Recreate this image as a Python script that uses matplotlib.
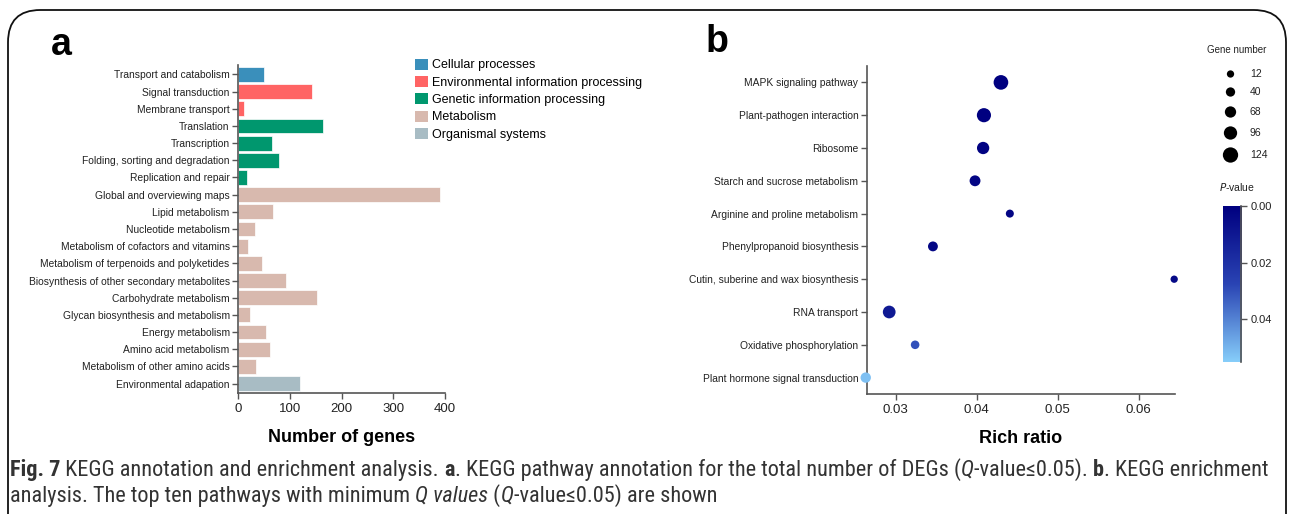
import matplotlib
matplotlib.use("Agg")
import matplotlib.pyplot as plt
import numpy as np
from matplotlib.colors import LinearSegmentedColormap, Normalize
from matplotlib.patches import FancyBboxPatch, Patch

plt.rcParams['font.family'] = ['Liberation Sans', 'DejaVu Sans']

# ---------------- data: panel a ----------------
pathways_a = [
    "Transport and catabolism", "Signal transduction", "Membrane transport",
    "Translation", "Transcription", "Folding, sorting and degradation",
    "Replication and repair", "Global and overviewing maps", "Lipid metabolism",
    "Nucleotide metabolism", "Metabolism of cofactors and vitamins",
    "Metabolism of terpenoids and polyketides",
    "Biosynthesis of other secondary metabolites", "Carbohydrate metabolism",
    "Glycan biosynthesis and metabolism", "Energy metabolism",
    "Amino acid metabolism", "Metabolism of other amino acids",
    "Environmental adapation",
]
gene_counts_a = [50, 143, 12, 165, 66, 80, 18, 391, 67, 33, 19, 46, 92, 153, 24, 54, 62, 35, 119]
classes_a = ["Cellular processes", "Environmental information processing",
             "Environmental information processing",
             "Genetic information processing", "Genetic information processing",
             "Genetic information processing", "Genetic information processing",
             "Metabolism", "Metabolism", "Metabolism", "Metabolism", "Metabolism",
             "Metabolism", "Metabolism", "Metabolism", "Metabolism", "Metabolism",
             "Metabolism", "Organismal systems"]
class_names = ["Cellular processes", "Environmental information processing",
               "Genetic information processing", "Metabolism", "Organismal systems"]
class_colors = ["#3a8fbb", "#ff6464", "#00976e", "#d8b9ae", "#a8bcc4"]
xticks_a = [0, 100, 200, 300, 400]

# ---------------- data: panel b ----------------
pathways_b = [
    "MAPK signaling pathway", "Plant-pathogen interaction", "Ribosome",
    "Starch and sucrose metabolism", "Arginine and proline metabolism",
    "Phenylpropanoid biosynthesis", "Cutin, suberine and wax biosynthesis",
    "RNA transport", "Oxidative phosphorylation", "Plant hormone signal transduction",
]
rich_ratio_b = [0.0430, 0.0409, 0.0408, 0.0398, 0.0441, 0.0346, 0.0644, 0.0292, 0.0324, 0.0263]
gene_number_b = [115, 108, 82, 62, 22, 48, 12, 88, 30, 55]
p_value_b = [0.0, 0.0, 0.001, 0.002, 0.002, 0.003, 0.004, 0.010, 0.030, 0.052]
size_legend_vals = [12, 40, 68, 96, 124]
xticks_b = [0.03, 0.04, 0.05, 0.06]
cbar_ticks = [0.00, 0.02, 0.04]

# ---------------- figure helpers ----------------
W, H = 1292, 514
DPI = 100
fig = plt.figure(figsize=(W / DPI, H / DPI), dpi=DPI)


def rect(x0, y0, x1, y1):
    return [x0 / W, 1 - y1 / H, (x1 - x0) / W, (y1 - y0) / H]


def dot_size(n):
    d_px = 6.44 + 0.0714 * np.asarray(n, dtype=float)
    return (d_px * 72.0 / DPI) ** 2


AX_COLOR = "#555555"
TXT = "#222222"

# border
fig.patches.append(FancyBboxPatch((8 / W, -0.2), (1286 - 8) / W, 1.2 - 10 / H,
                                  boxstyle="round,pad=0,rounding_size=0.025",
                                  transform=fig.transFigure, fill=False,
                                  edgecolor="#111111", linewidth=1.3,
                                  mutation_aspect=W / H))

# ---------------- panel a ----------------
axa = fig.add_axes(rect(238, 65, 445, 393))
ya = np.arange(len(pathways_a))
cmap_cls = dict(zip(class_names, class_colors))
axa.barh(ya, gene_counts_a, height=0.86,
         color=[cmap_cls[c] for c in classes_a], edgecolor="white", linewidth=0.5)
axa.set_ylim(len(pathways_a) - 0.45, -0.55)
axa.set_xlim(0, 400)
axa.set_xticks(xticks_a)
axa.set_yticks(ya)
axa.set_yticklabels(pathways_a, fontsize=7.4, color=TXT)
axa.tick_params(axis="x", labelsize=9.5, colors=AX_COLOR, labelcolor=TXT, length=4, width=1)
axa.tick_params(axis="y", colors=AX_COLOR, labelcolor=TXT, length=4, width=1, pad=2)
for s in ["top", "right"]:
    axa.spines[s].set_visible(False)
for s in ["left", "bottom"]:
    axa.spines[s].set_color(AX_COLOR)
    axa.spines[s].set_linewidth(1.2)
axa.set_xlabel("Number of genes", fontsize=13, fontweight="bold", labelpad=10, color="black")

handles = [Patch(facecolor=c, edgecolor="none") for c in class_colors]
fig.legend(handles, class_names, loc="upper left", bbox_to_anchor=(415 / W, 1 - 58.5 / H),
           frameon=False, fontsize=9, handlelength=1.0, handleheight=1.0,
           handletextpad=0.35, labelspacing=0.36, borderaxespad=0, borderpad=0)

fig.text(61 / W, 1 - 45 / H, "a", fontsize=27, fontweight="bold", ha="center", va="center")
fig.text(717 / W, 1 - 42 / H, "b", fontsize=27, fontweight="bold", ha="center", va="center")

# ---------------- panel b ----------------
pmax = 0.055
cmap_p = LinearSegmentedColormap.from_list("pv", ["#000080", "#2a44b4", "#87cefa"])
norm_p = Normalize(0, pmax)

axb = fig.add_axes(rect(866.7, 66, 1175, 394))
yb = np.arange(len(pathways_b))
axb.scatter(rich_ratio_b, yb, s=dot_size(gene_number_b), c=p_value_b, cmap=cmap_p,
            norm=norm_p, edgecolors="none", clip_on=False, zorder=3)
axb.set_xlim(0.02642, 0.0645)
axb.set_ylim(len(pathways_b) - 0.5, -0.5)
axb.set_xticks(xticks_b)
axb.set_xticklabels([f"{v:.2f}" for v in xticks_b])
axb.set_yticks(yb)
axb.set_yticklabels(pathways_b, fontsize=7.35, color=TXT)
axb.tick_params(axis="x", labelsize=9.5, colors=AX_COLOR, labelcolor=TXT, length=4, width=1)
axb.tick_params(axis="y", colors=AX_COLOR, labelcolor=TXT, length=4, width=1, pad=2)
for s in ["top", "right"]:
    axb.spines[s].set_visible(False)
for s in ["left", "bottom"]:
    axb.spines[s].set_color(AX_COLOR)
    axb.spines[s].set_linewidth(1.2)
axb.set_xlabel("Rich ratio", fontsize=13, fontweight="bold", labelpad=10, color="black")

# size legend
axl = fig.add_axes(rect(1200, 40, 1290, 170))
axl.set_xlim(1200, 1290)
axl.set_ylim(170, 40)
axl.axis("off")
leg_y = [74, 92, 112, 133, 155]
axl.scatter([1230.5] * len(size_legend_vals), leg_y, s=dot_size(size_legend_vals),
            color="black", edgecolors="none", clip_on=False)
for v, yy in zip(size_legend_vals, leg_y):
    axl.text(1250, yy, str(v), fontsize=7.5, va="center", ha="left", color=TXT)
axl.text(1237, 50, "Gene number", fontsize=7, va="center", ha="center", color=TXT)

# colour bar
fig.text(1237 / W, 1 - 187 / H, "$\\it{P}$-value", fontsize=7.5, ha="center", va="center", color=TXT)
axc = fig.add_axes(rect(1223, 206, 1241, 362))
grad = np.linspace(0, pmax, 256).reshape(-1, 1)
axc.imshow(grad, aspect="auto", cmap=cmap_p, norm=norm_p,
           extent=[0, 1, pmax, 0], origin="upper")
axc.set_ylim(pmax, 0)
axc.set_xticks([])
axc.yaxis.tick_right()
axc.set_yticks(cbar_ticks)
axc.set_yticklabels([f"{v:.2f}" for v in cbar_ticks])
axc.tick_params(axis="y", labelsize=8, colors=AX_COLOR, labelcolor=TXT, length=4, width=1, pad=3)
for s in ["top", "left", "bottom"]:
    axc.spines[s].set_visible(False)
axc.spines["right"].set_color(AX_COLOR)
axc.spines["right"].set_linewidth(1.2)

# ---------------- caption ----------------
cap_family = ['Roboto Condensed', 'Open Sans Condensed', 'Liberation Sans Narrow',
              'DejaVu Sans']
line1 = [("Fig. 7", "bold", "normal"), (" KEGG annotation and enrichment analysis. ", "normal", "normal"),
         ("a", "bold", "normal"), (". KEGG pathway annotation for the total number of DEGs (", "normal", "normal"),
         ("Q", "normal", "italic"), ("-value≤0.05). ", "normal", "normal"), ("b", "bold", "normal"),
         (". KEGG enrichment", "normal", "normal")]
line2 = [("analysis. The top ten pathways with minimum ", "normal", "normal"),
         ("Q values", "normal", "italic"), (" (", "normal", "normal"), ("Q", "normal", "italic"),
         ("-value≤0.05) are shown", "normal", "normal")]

renderer = fig.canvas.get_renderer()


def place_runs(runs, x0, y, fs, draw=True):
    x = x0
    objs = []
    for txt, wt, st in runs:
        t = fig.text(x / W, 1 - y / H, txt, fontsize=fs, fontweight=wt, fontstyle=st,
                     family=cap_family, fontstretch="condensed",
                     ha="left", va="baseline", color="#333333")
        bb = t.get_window_extent(renderer=renderer)
        x += bb.width
        objs.append(t)
    if not draw:
        for t in objs:
            t.remove()
    return x - x0


fs0 = 12.0
w0 = place_runs(line1, 10, 476, fs0, draw=False)
fs = fs0 * (1252.0 / w0)
place_runs(line1, 10, 476, fs)
place_runs(line2, 10, 502, fs)

fig.savefig("out.png", dpi=DPI)
